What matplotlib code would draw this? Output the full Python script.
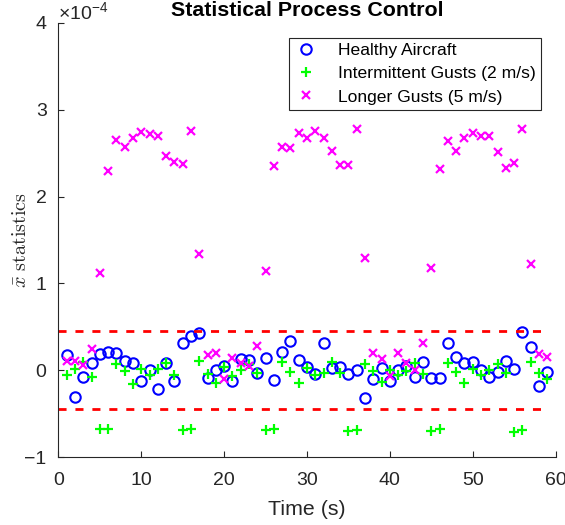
import numpy as np
import matplotlib
matplotlib.use("Agg")
import matplotlib.pyplot as plt

plt.rcParams['font.family'] = ['Liberation Sans', 'DejaVu Sans']
plt.rcParams['mathtext.fontset'] = 'custom'
plt.rcParams['mathtext.rm'] = 'Liberation Sans'
plt.rcParams['mathtext.it'] = 'Liberation Sans:italic'

# sample times (s)
time_s = np.arange(1, 60)

# x-bar statistics, in units of 1e-4
healthy = [0.173, -0.303, -0.077, 0.081, 0.184, 0.215, 0.196, 0.107, 0.088, -0.123, 0.0, -0.219,
           0.081, -0.127, 0.311, 0.395, 0.434, -0.084, 0.004, 0.05, -0.123, 0.134, 0.119, -0.035,
           0.146, -0.115, 0.211, 0.334, 0.119, 0.042, -0.046, 0.315, 0.031, 0.042, -0.046, 0.004,
           -0.319, -0.096, 0.031, -0.130, 0.0, 0.05, -0.08, 0.096, -0.092, -0.092, 0.311, 0.154,
           0.081, 0.096, 0.004, -0.077, -0.015, 0.107, 0.012, 0.441, 0.273, -0.180, -0.019]
gusts_2 = [-0.058, 0.015, 0.09, -0.08, -0.68, -0.68, 0.069, -0.008, -0.158, 0.019, -0.06, 0.01,
           0.081, -0.06, -0.69, -0.68, 0.104, -0.04, -0.142, 0.04, -0.07, 0.008, 0.069, -0.035,
           -0.69, -0.68, 0.089, -0.019, -0.142, 0.025, -0.058, -0.027, 0.092, -0.035, -0.70, -0.69,
           0.075, -0.012, -0.134, 0.004, -0.058, -0.004, 0.088, -0.04, -0.70, -0.68, 0.088, -0.015,
           -0.142, 0.012, -0.054, 0.004, 0.077, -0.035, -0.71, -0.69, 0.10, -0.027, -0.107]
gusts_5 = [0.107, 0.107, 0.055, 0.242, 1.12, 2.29, 2.65, 2.57, 2.67, 2.74, 2.72, 2.70,
           2.47, 2.40, 2.37, 2.76, 1.34, 0.173, 0.204, -0.10, 0.146, 0.088, 0.046, 0.276,
           1.14, 2.35, 2.57, 2.56, 2.73, 2.68, 2.75, 2.67, 2.52, 2.36, 2.36, 2.78,
           1.29, 0.194, 0.134, -0.07, 0.204, 0.079, 0.006, 0.309, 1.175, 2.32, 2.64, 2.53,
           2.68, 2.73, 2.70, 2.70, 2.51, 2.33, 2.39, 2.78, 1.22, 0.184, 0.153]

# control limits
limit = 0.446
limit_t = [0, 59]

fig = plt.figure(figsize=(5.65, 5.25), dpi=100)
ax = fig.add_axes([0.1034, 0.1295, 0.880, 0.8267])

ax.plot(time_s, healthy, 'o', color='blue', mfc='none', ms=7.5, mew=1.5, label='Healthy Aircraft')
ax.plot(time_s, gusts_2, '+', color=(0, 1, 0), ms=7, mew=1.6, label='Intermittent Gusts (2 m/s)')
ax.plot(time_s, gusts_5, 'x', color=(1, 0, 1), ms=5.5, mew=1.6, label='Longer Gusts (5 m/s)')
ax.plot(limit_t, [limit, limit], color='red', lw=2, ls=(0, (2.9, 3.2)))
ax.plot(limit_t, [-limit, -limit], color='red', lw=2, ls=(0, (2.9, 3.2)))

ax.set_xlim(0, 60)
ax.set_ylim(-1, 4)
ax.set_xticks(range(0, 61, 10))
ax.set_yticks(range(-1, 5))

dark = (0.15, 0.15, 0.15)
for s in ['top', 'right']:
    ax.spines[s].set_visible(False)
for s in ['left', 'bottom']:
    ax.spines[s].set_color(dark)
    ax.spines[s].set_linewidth(0.8)
ax.tick_params(direction='in', length=4, width=0.8, colors=dark, labelsize=14)
ax.tick_params(axis='x', pad=10.5)
ax.tick_params(axis='y', pad=8.5)

ax.set_xlabel('Time (s)', fontsize=15.4, color=dark, labelpad=8)
ax.set_ylabel(r'$\bar{x}\ \mathrm{statistics}$', fontsize=14.5, color=dark,
              math_fontfamily='cm', labelpad=-4)
ax.set_title('Statistical Process Control', fontsize=15.4, fontweight='bold', pad=5)
ax.text(0.0, 1.0, r'$\times10^{-4}$', transform=ax.transAxes, fontsize=14, color=dark,
        ha='left', va='bottom')

leg = ax.legend(loc='upper right', bbox_to_anchor=(0.97, 0.966), borderaxespad=0,
                fontsize=12.6, fancybox=False, framealpha=1, edgecolor=dark, borderpad=0.3,
                labelspacing=0.45, handlelength=1.4, handletextpad=1.1)
leg.get_frame().set_linewidth(0.8)

fig.savefig('out.png', dpi=100)
